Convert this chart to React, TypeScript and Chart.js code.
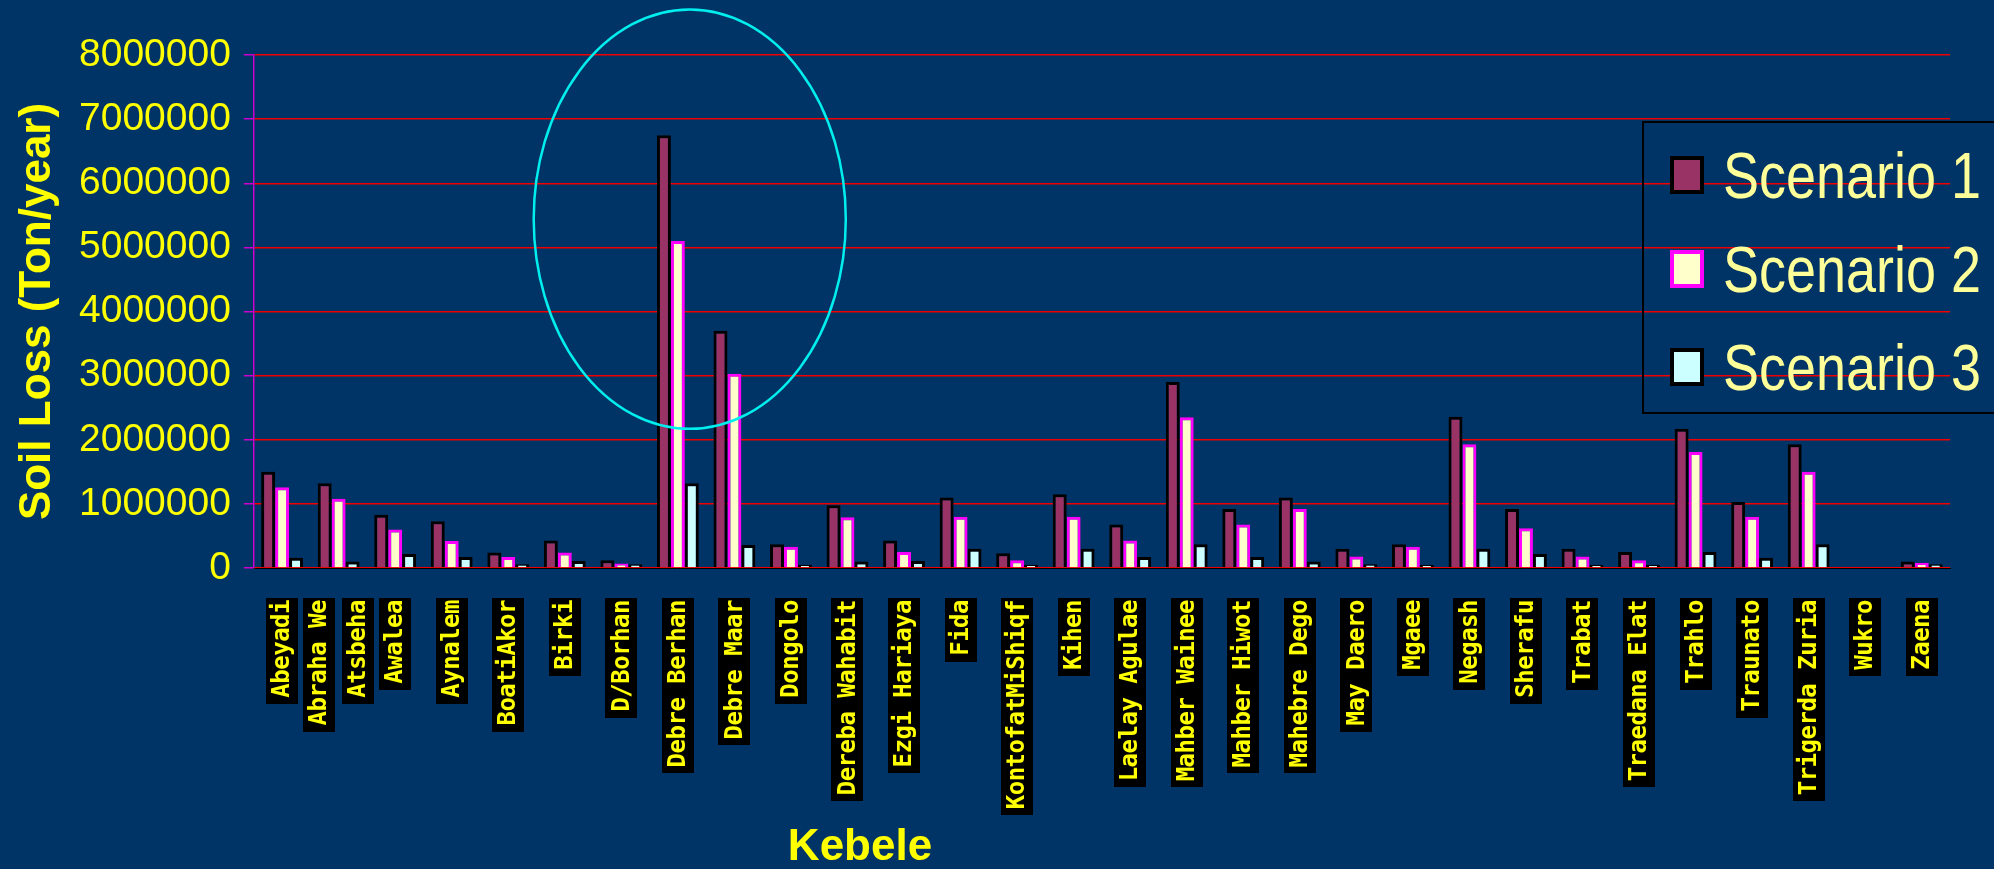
import React, { useEffect, useRef } from "react";
import { Chart, registerables } from "chart.js";

Chart.register(...registerables);

// ---- data ----
const kebeles: (string | string[])[] = [
  "Abeyadi",
  ["Abraha We", "Atsbeha"],
  "Awalea",
  "Aynalem",
  "BoatiAkor",
  "Birki",
  "D/Borhan",
  "Debre Berhan",
  "Debre Maar",
  "Dongolo",
  "Dereba Wahabit",
  "Ezgi Hariaya",
  "Fida",
  "KontofatMiShiqf",
  "Kihen",
  "Laelay Agulae",
  "Mahber Wainee",
  "Mahber Hiwot",
  "Mahebre Dego",
  "May Daero",
  "Mgaee",
  "Negash",
  "Sherafu",
  "Trabat",
  "Traedana Elat",
  "Trahlo",
  "Traunato",
  "Trigerda Zuria",
  "Wukro",
  "Zaena",
];

const scenario1 = [
  1500000, 1320000, 830000, 730000, 240000, 430000, 120000, 6750000, 3700000, 370000,
  980000, 430000, 1100000, 230000, 1150000, 680000, 2900000, 920000, 1100000, 300000,
  370000, 2360000, 920000, 300000, 250000, 2170000, 1030000, 1930000, 0, 100000,
];
const scenario2 = [
  1260000, 1080000, 600000, 420000, 170000, 240000, 70000, 5100000, 3030000, 330000,
  790000, 250000, 800000, 120000, 800000, 430000, 2350000, 680000, 920000, 180000,
  330000, 1930000, 620000, 180000, 120000, 1810000, 800000, 1500000, 0, 80000,
];
const scenario3 = [
  160000, 100000, 220000, 170000, 60000, 110000, 60000, 1320000, 360000, 50000,
  100000, 110000, 300000, 50000, 300000, 170000, 370000, 170000, 100000, 60000,
  50000, 300000, 220000, 50000, 50000, 250000, 160000, 370000, 0, 60000,
];

const seriesNames = ["Scenario 1", "Scenario 2", "Scenario 3"];
const yTicks = [0, 1000000, 2000000, 3000000, 4000000, 5000000, 6000000, 7000000, 8000000];

const yTitle = "Soil Loss (Ton/year)";
const xTitle = "Kebele";

// highlight ellipse (data units: category index / value)
const highlightCenterIndex = 7.21;
const highlightCenterValue = 5440000;
const highlightRadiusIndex = 2.76;
const highlightRadiusValue = 3270000;

// ---- styles ----
const BG = "#003366";
const fills = ["#993366", "#FFFFCC", "#CCFFFF"];
const borders = ["#000000", "#FF00FF", "#000000"];

const labelPlugin = {
  id: "kebeleLabels",
  afterDraw(chart: any) {
    const { ctx, chartArea } = chart;
    const x = chart.scales.x;
    ctx.save();
    ctx.font = "bold 24px 'DejaVu Sans Mono'";
    (ctx as any).letterSpacing = "-0.5px";
    const top = chartArea.bottom + 30;
    kebeles.forEach((lab, i) => {
      const lines = Array.isArray(lab) ? lab : [lab];
      const cx = x.getPixelForValue(i);
      lines.forEach((line, j) => {
        const lx = cx + (j - (lines.length - 1) / 2) * 39;
        const w = ctx.measureText(line).width;
        ctx.fillStyle = "#000000";
        ctx.fillRect(Math.round(lx - 16), top, 32, Math.round(w + 8));
        ctx.save();
        ctx.translate(lx + 1, top + 2);
        ctx.rotate(-Math.PI / 2);
        ctx.textAlign = "right";
        ctx.textBaseline = "middle";
        ctx.fillStyle = "#FFFF00";
        ctx.fillText(line, 0, 0);
        ctx.restore();
      });
    });
    (ctx as any).letterSpacing = "0px";
    ctx.font = "bold 44px 'Liberation Sans'";
    ctx.fillStyle = "#FFFF00";
    ctx.textAlign = "center";
    ctx.textBaseline = "middle";
    ctx.fillText(xTitle, 860, 848);
    ctx.restore();
  },
};

const ellipsePlugin = {
  id: "highlightEllipse",
  afterDatasetsDraw(chart: any) {
    const { ctx } = chart;
    const x = chart.scales.x;
    const y = chart.scales.y;
    const cx = x.getPixelForValue(highlightCenterIndex);
    const cy = y.getPixelForValue(highlightCenterValue);
    const rx = x.getPixelForValue(highlightCenterIndex + highlightRadiusIndex) - cx;
    const ry = cy - y.getPixelForValue(highlightCenterValue + highlightRadiusValue);
    ctx.save();
    ctx.beginPath();
    ctx.ellipse(cx, cy, rx, ry, 0, 0, Math.PI * 2);
    ctx.strokeStyle = "#00EEEE";
    ctx.lineWidth = 2.5;
    ctx.stroke();
    ctx.restore();
  },
};

function Legend() {
  return (
    <div
      style={{
        position: "absolute",
        left: 1642,
        top: 121,
        width: 420,
        height: 293,
        border: "2px solid #000",
        boxSizing: "border-box",
      }}
    >
      {seriesNames.map((name, i) => (
        <div
          key={name}
          style={{
            position: "absolute",
            left: 26,
            top: [52, 146, 244][i] - 32,
            height: 64,
            display: "flex",
            alignItems: "center",
          }}
        >
          <div
            style={{
              width: 34,
              height: 38,
              boxSizing: "border-box",
              background: fills[i],
              border: `4px solid ${borders[i]}`,
            }}
          />
          <div
            style={{
              marginLeft: 19,
              fontFamily: "'Liberation Sans', Arial, sans-serif",
              fontSize: 65,
              lineHeight: 1,
              color: "#FFFF99",
              whiteSpace: "nowrap",
              transform: "scaleX(0.83)",
              transformOrigin: "left center",
            }}
          >
            {name}
          </div>
        </div>
      ))}
    </div>
  );
}

export default function App() {
  const canvasRef = useRef<HTMLCanvasElement | null>(null);

  useEffect(() => {
    if (!canvasRef.current) return;
    const datasets = [scenario1, scenario2, scenario3].map((data, i) => ({
      label: seriesNames[i],
      data,
      backgroundColor: fills[i],
      borderColor: borders[i],
      borderWidth: 3,
      categoryPercentage: 0.74,
      barPercentage: 1.0,
    }));
    const chart = new Chart(canvasRef.current, {
      type: "bar",
      data: { labels: kebeles.map((k) => (Array.isArray(k) ? k.join(" ") : k)), datasets },
      plugins: [ellipsePlugin, labelPlugin],
      options: {
        responsive: false,
        maintainAspectRatio: false,
        animation: false,
        layout: { padding: { top: 55, right: 44, left: 16, bottom: 0 } },
        plugins: { legend: { display: false }, tooltip: { enabled: false } },
        scales: {
          x: {
            ticks: { display: false, autoSkip: false },
            grid: { display: false, drawTicks: false },
            border: { display: true, color: "#000000", width: 1 },
            afterFit: (scale: any) => {
              scale.height = 301;
            },
          },
          y: {
            min: 0,
            max: 8000000,
            afterBuildTicks: (scale: any) => {
              scale.ticks = yTicks.map((v) => ({ value: v }));
            },
            ticks: {
              color: "#FFFF00",
              font: { family: "'Liberation Sans'", size: 39 },
              padding: 13,
              callback: (v: any) => String(v),
            },
            grid: {
              color: "rgb(240,0,0)",
              lineWidth: 1.5,
              tickColor: "#CC00CC",
              tickLength: 10,
              drawTicks: true,
            },
            border: { display: true, color: "#CC00CC", width: 1.5 },
            title: {
              display: true,
              text: yTitle,
              color: "#FFFF00",
              font: { family: "'Liberation Sans'", size: 44, weight: "bold", lineHeight: 1 },
              padding: { top: 0, bottom: 6 },
            },
          },
        },
      } as any,
    });
    return () => chart.destroy();
  }, []);

  return (
    <div
      style={{
        position: "fixed",
        left: 0,
        top: 0,
        width: 1994,
        height: 869,
        background: BG,
        overflow: "hidden",
      }}
    >
      <canvas ref={canvasRef} width={1994} height={869} style={{ display: "block" }} />
      <Legend />
    </div>
  );
}
